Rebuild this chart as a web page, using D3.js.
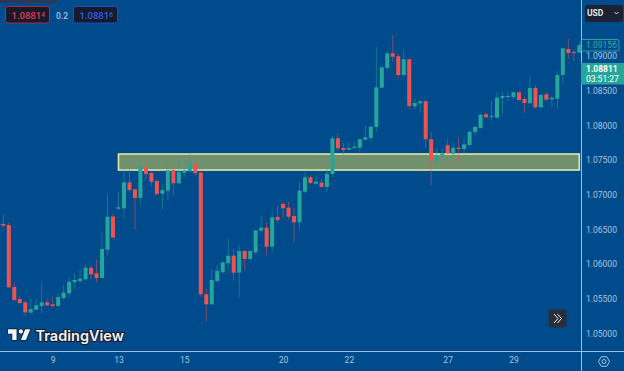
<!DOCTYPE html>
<html>
<head>
<meta charset="utf-8">
<script src="https://cdn.jsdelivr.net/npm/d3@7"></script>
<style>
    body { margin: 0; background: #004b8c; }
    svg { display: block; font-family: Roboto, sans-serif; }
</style>
</head>
<body>
<svg id="chart"></svg>
<script>
const opens = [
    1.06577, 1.06562, 1.05668, 1.05495, 1.05447, 1.05297, 1.05341, 1.05394, 1.05447, 1.05418,
    1.05394, 1.05509, 1.05577, 1.05736, 1.05755, 1.05779, 1.05946, 1.05866, 1.05798, 1.06206,
    1.06685, 1.06797, 1.06803, 1.07178, 1.07077, 1.06952, 1.07395, 1.07312, 1.07197, 1.07014,
    1.07057, 1.07356, 1.07164, 1.07317, 1.07337, 1.07452, 1.07317, 1.05563, 1.05418, 1.05755,
    1.05880, 1.06010, 1.06119, 1.05874, 1.06187, 1.06072, 1.06169, 1.06480, 1.06523, 1.06249,
    1.06678, 1.06865, 1.06812, 1.06692, 1.06601, 1.07043, 1.07250, 1.07158, 1.07173, 1.07111,
    1.07298, 1.07813, 1.07673, 1.07649, 1.07673, 1.07677, 1.07793, 1.07817, 1.07976, 1.08543,
    1.08827, 1.09039, 1.08996, 1.08726, 1.08953, 1.08275, 1.08318, 1.08347, 1.07799, 1.07490,
    1.07562, 1.07712, 1.07587, 1.07677, 1.07659, 1.07716, 1.07904, 1.07962, 1.08159, 1.08120,
    1.08110, 1.08394, 1.08409, 1.08409, 1.08477, 1.08380, 1.08318, 1.08539, 1.08260, 1.08448,
    1.08376, 1.08384, 1.08726, 1.09101, 1.09058, 1.09048
];
const closes = [
    1.06552, 1.05664, 1.05480, 1.05437, 1.05303, 1.05351, 1.05404, 1.05447, 1.05404, 1.05394,
    1.05524, 1.05586, 1.05744, 1.05769, 1.05788, 1.05946, 1.05851, 1.05798, 1.06216, 1.06682,
    1.06379, 1.06818, 1.07178, 1.07067, 1.06952, 1.07395, 1.07298, 1.07187, 1.07010, 1.07067,
    1.07351, 1.07164, 1.07327, 1.07351, 1.07452, 1.07308, 1.05563, 1.05418, 1.05769, 1.05899,
    1.06024, 1.06119, 1.05874, 1.06187, 1.06072, 1.06187, 1.06486, 1.06523, 1.06249, 1.06673,
    1.06634, 1.06803, 1.06682, 1.06601, 1.07057, 1.07250, 1.07168, 1.07187, 1.07111, 1.07302,
    1.07813, 1.07669, 1.07644, 1.07673, 1.07692, 1.07799, 1.07827, 1.07980, 1.08549, 1.08837,
    1.09039, 1.08990, 1.08726, 1.08953, 1.08279, 1.08322, 1.08347, 1.07799, 1.07486, 1.07562,
    1.07597, 1.07597, 1.07677, 1.07659, 1.07726, 1.07908, 1.07976, 1.08153, 1.08116, 1.08135,
    1.08399, 1.08423, 1.08423, 1.08477, 1.08365, 1.08322, 1.08539, 1.08260, 1.08438, 1.08370,
    1.08399, 1.08726, 1.09111, 1.09043, 1.09048, 1.09156
];
const highs = [
    1.06721, 1.06601, 1.05740, 1.05543, 1.05466, 1.05495, 1.05491, 1.05736, 1.05499, 1.05534,
    1.05563, 1.05697, 1.05812, 1.05860, 1.05913, 1.05985, 1.05985, 1.06068, 1.06443, 1.07010,
    1.06728, 1.07043, 1.07380, 1.07380, 1.07082, 1.07428, 1.07475, 1.07331, 1.07211, 1.07154,
    1.07467, 1.07438, 1.07490, 1.07380, 1.07597, 1.07467, 1.07327, 1.05649, 1.05928, 1.05985,
    1.06033, 1.06360, 1.06216, 1.06274, 1.06206, 1.06202, 1.06490, 1.06692, 1.06601, 1.06764,
    1.06851, 1.06898, 1.06898, 1.06808, 1.07178, 1.07317, 1.07279, 1.07259, 1.07222, 1.07370,
    1.07846, 1.07889, 1.07750, 1.07760, 1.07770, 1.07803, 1.08005, 1.07990, 1.09126, 1.08842,
    1.09058, 1.09299, 1.09039, 1.09087, 1.08957, 1.08384, 1.08361, 1.08365, 1.07908, 1.07673,
    1.07673, 1.07807, 1.07750, 1.07827, 1.07813, 1.07914, 1.08015, 1.08164, 1.08197, 1.08351,
    1.08477, 1.08477, 1.08485, 1.08481, 1.08495, 1.08413, 1.08716, 1.08582, 1.08452, 1.08481,
    1.08413, 1.08788, 1.09116, 1.09260, 1.09087, 1.09173
];
const lows = [
    1.06534, 1.05654, 1.05466, 1.05408, 1.05250, 1.05293, 1.05336, 1.05293, 1.05394, 1.05375,
    1.05390, 1.05480, 1.05524, 1.05639, 1.05726, 1.05769, 1.05783, 1.05736, 1.05793, 1.06119,
    1.06375, 1.06779, 1.06645, 1.07034, 1.06505, 1.06855, 1.07211, 1.07125, 1.06985, 1.06793,
    1.06913, 1.06985, 1.07154, 1.07250, 1.07317, 1.07274, 1.05524, 1.05168, 1.05415, 1.05736,
    1.05870, 1.05928, 1.05759, 1.05514, 1.05918, 1.06043, 1.06140, 1.06443, 1.06119, 1.06169,
    1.06596, 1.06659, 1.06645, 1.06313, 1.06490, 1.07028, 1.07154, 1.07149, 1.07106, 1.07034,
    1.07250, 1.07620, 1.07572, 1.07644, 1.07654, 1.07587, 1.07778, 1.07760, 1.07904, 1.08539,
    1.08798, 1.08914, 1.08673, 1.08722, 1.08240, 1.08231, 1.08182, 1.07673, 1.07135, 1.07428,
    1.07558, 1.07587, 1.07576, 1.07461, 1.07597, 1.07702, 1.07861, 1.07952, 1.08102, 1.08067,
    1.08106, 1.08164, 1.08355, 1.08376, 1.08355, 1.08182, 1.08308, 1.08240, 1.08250, 1.08355,
    1.08260, 1.08240, 1.08596, 1.08953, 1.08924, 1.09039
];

const priceTicks = [1.05, 1.055, 1.06, 1.065, 1.07, 1.075, 1.08, 1.085, 1.09];
const dayTickIndex = [9, 21, 33, 51, 63, 81, 93];
const dayTickLabels = ["9", "13", "15", "20", "22", "27", "29"];

// supply/demand zone drawn on the chart
const zonePrices = [1.07586, 1.07355];
const zoneCandles = [21, 105];

const width = 624, height = 371;
const plotRight = 581, plotBottom = 351;
const upColor = "#26a69a", downColor = "#ef5350", axisColor = "#a9c5df", lineColor = "#9dbedc";

const svg = d3.select("#chart").attr("width", width).attr("height", height);

const xScale = d3.scaleLinear().domain([0, 105]).range([3.3, 579.3]);
const yScale = d3.scaleLinear().domain([1.05, 1.09]).range([333.3, 56]);
const bodyWidth = 4;

svg.append("defs").append("clipPath").attr("id", "plot")
    .append("rect").attr("width", plotRight).attr("height", plotBottom);

// zone
svg.append("rect")
    .attr("x", xScale(zoneCandles[0]))
    .attr("y", yScale(zonePrices[0]))
    .attr("width", xScale(zoneCandles[1]) - xScale(zoneCandles[0]))
    .attr("height", yScale(zonePrices[1]) - yScale(zonePrices[0]))
    .attr("fill", "#70906e")
    .attr("stroke", "#dfe8a9")
    .attr("stroke-width", 1.6);

// candles
const candles = svg.append("g").attr("clip-path", "url(#plot)")
    .selectAll("g")
    .data(d3.range(opens.length))
    .join("g")
    .attr("fill", i => closes[i] >= opens[i] ? upColor : downColor)
    .attr("stroke", i => closes[i] >= opens[i] ? upColor : downColor);

candles.append("line")
    .attr("x1", i => xScale(i))
    .attr("x2", i => xScale(i))
    .attr("y1", i => yScale(highs[i]))
    .attr("y2", i => yScale(lows[i]))
    .attr("stroke-width", 1)
    .attr("stroke-opacity", 0.5);

candles.append("rect")
    .attr("x", i => xScale(i) - bodyWidth / 2)
    .attr("y", i => yScale(Math.max(opens[i], closes[i])))
    .attr("width", bodyWidth)
    .attr("height", i => Math.max(1, Math.abs(yScale(opens[i]) - yScale(closes[i]))))
    .attr("stroke", "none");

// axes
const yAxis = svg.append("g")
    .attr("transform", `translate(${plotRight}, 0)`)
    .call(d3.axisRight(yScale).tickValues(priceTicks).tickFormat(d3.format(".5f")).tickSize(0).tickPadding(5));
const xAxis = svg.append("g")
    .attr("transform", `translate(0, ${plotBottom})`)
    .call(d3.axisBottom(xScale).tickValues(dayTickIndex).tickFormat((d, i) => dayTickLabels[i]).tickSize(0).tickPadding(6));

[yAxis, xAxis].forEach(axis => {
    axis.select(".domain").remove();
    axis.selectAll("text")
        .attr("fill", axisColor)
        .attr("font-family", "Roboto, sans-serif")
        .attr("font-size", 8.5);
});

svg.append("line").attr("x1", plotRight + 0.5).attr("x2", plotRight + 0.5).attr("y1", 0).attr("y2", height).attr("stroke", lineColor);
svg.append("line").attr("x1", 0).attr("x2", width).attr("y1", plotBottom + 0.5).attr("y2", plotBottom + 0.5).attr("stroke", lineColor);

// last price tags
svg.append("rect").attr("x", plotRight).attr("y", 39.5).attr("width", 38).attr("height", 11.5).attr("rx", 2)
    .attr("fill", "none").attr("stroke", upColor);
svg.append("text").attr("x", 586).attr("y", 48.2).attr("font-size", 8.5).attr("fill", "#2fb0a4").text(closes[105].toFixed(5));

svg.append("rect").attr("x", plotRight).attr("y", 63).attr("width", 43).attr("height", 21.5).attr("fill", upColor);
svg.append("text").attr("x", 586).attr("y", 72).attr("font-size", 8.5).attr("font-weight", 700).attr("fill", "#fff").text("1.08811");
svg.append("text").attr("x", 586).attr("y", 81.5).attr("font-size", 8.5).attr("fill", "#fff").text("03:51:27");

// currency button
svg.append("rect").attr("x", 585).attr("y", 5).attr("width", 38).attr("height", 17).attr("rx", 3).attr("fill", "#1c2233");
svg.append("text").attr("x", 587).attr("y", 16).attr("font-size", 8.5).attr("font-weight", 700).attr("fill", "#e6e9ef").text("USD");
svg.append("path").attr("d", "M614.5 12l2 2 2-2").attr("fill", "none").attr("stroke", "#d8dce6");

// sell / buy boxes
svg.append("rect").attr("width", 57).attr("height", 3).attr("fill", "#2a3a55");
svg.append("path").attr("d", "M23 3h8l-4 2z").attr("fill", "#2a3a55");

const priceBoxes = [
    { x: 5.5, stroke: "#b3283a", text: "#e23a4c", big: "1.0881", small: "4" },
    { x: 73.5, stroke: "#1f4fb8", text: "#2b63e6", big: "1.0881", small: "6" }
];
priceBoxes.forEach(b => {
    svg.append("rect").attr("x", b.x).attr("y", 6.5).attr("width", 44).attr("height", 16.5).attr("rx", 2.5)
        .attr("fill", "#161a2c").attr("stroke", b.stroke);
    const label = svg.append("text").attr("x", b.x + 6).attr("y", 19).attr("font-size", 9.5).attr("font-weight", 500).attr("fill", b.text);
    label.append("tspan").text(b.big);
    label.append("tspan").attr("dy", -2).attr("font-size", 6.5).text(b.small);
});
svg.append("text").attr("x", 56).attr("y", 18.5).attr("font-size", 8.5).attr("font-weight", 500).attr("fill", axisColor).text("0.2");

// watermark
svg.append("path")
    .attr("transform", "translate(6.5, 325) scale(0.72)")
    .attr("d", "M14 6H2v6h6v9h6V6zm13 15h-7l6-15h7l-6 15zm-7-9a3 3 0 1 0 0-6 3 3 0 0 0 0 6z")
    .attr("fill", "#f2f4f7").attr("stroke", "#131b2e").attr("stroke-width", 2).attr("paint-order", "stroke");
svg.append("text").attr("x", 35.5).attr("y", 340.5).attr("font-size", 14.5).attr("font-weight", 600)
    .attr("font-family", "Inter, Roboto, sans-serif")
    .attr("fill", "#f2f4f7").attr("stroke", "#131b2e").attr("stroke-width", 2.2).attr("paint-order", "stroke")
    .text("TradingView");

// scroll button
svg.append("rect").attr("x", 548.5).attr("y", 309.5).attr("width", 18).attr("height", 18).attr("rx", 3).attr("fill", "#2a2e39");
svg.append("path").attr("d", "M554 314l4 4.5-4 4.5M557.5 314l4 4.5-4 4.5").attr("fill", "none").attr("stroke", "#e8eaf0");

// settings icon
const hexagon = d3.range(6).map(k => [604 + 5.5 * Math.cos(k * Math.PI / 3), 361.5 + 5.5 * Math.sin(k * Math.PI / 3)]);
svg.append("path").attr("d", d3.line()(hexagon) + "Z").attr("fill", "none").attr("stroke", axisColor);
svg.append("circle").attr("cx", 604).attr("cy", 361.5).attr("r", 2).attr("fill", "none").attr("stroke", axisColor);
</script>
</body>
</html>
